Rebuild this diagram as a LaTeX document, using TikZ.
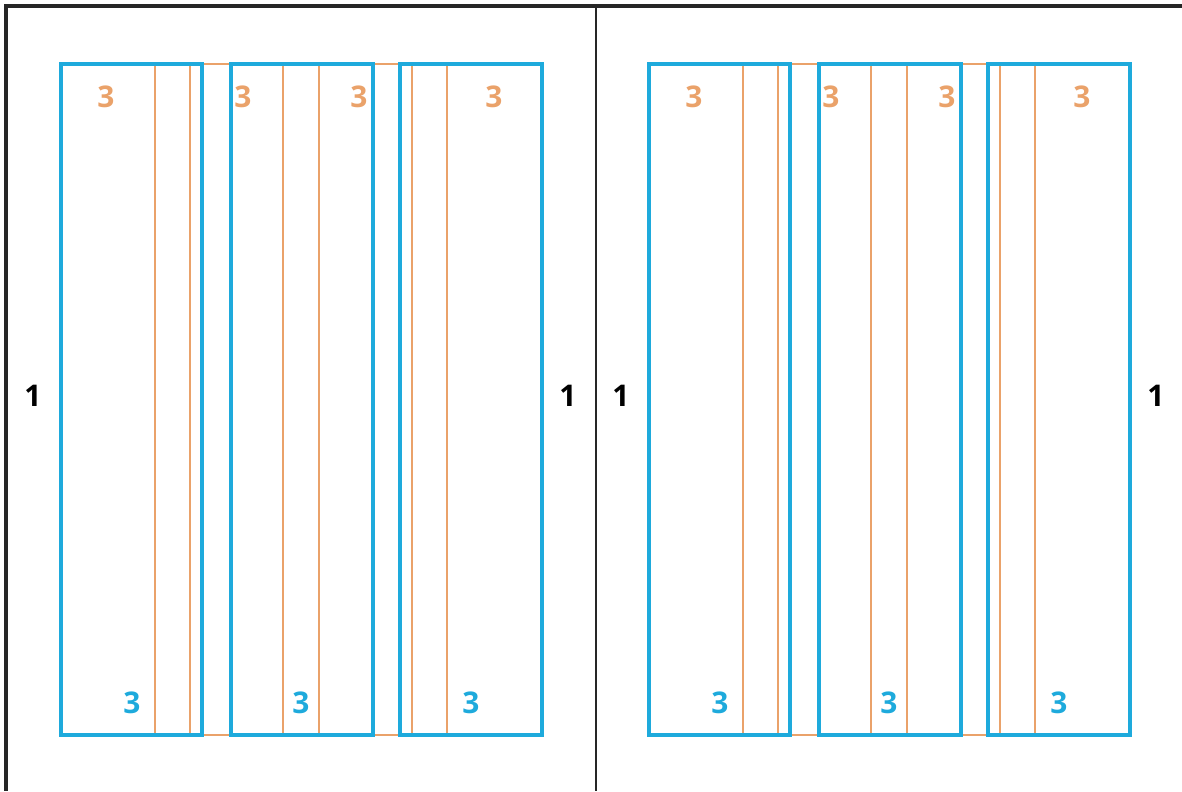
\documentclass[tikz,border=0pt]{standalone}
\usepackage{fontspec}
\setmainfont{Open Sans}
\definecolor{gridblue}{RGB}{30,170,220}
\definecolor{gridorange}{RGB}{234,162,106}
\tikzset{
  colbox/.style={draw=gridblue, line width=2pt},
  modline/.style={draw=gridorange, line width=1.3pt},
  numlbl/.style={font=\fontsize{17}{17}\selectfont\bfseries, inner sep=0pt},
}
\begin{document}
\begin{tikzpicture}[x=0.02cm, y=-0.02cm]
  \useasboundingbox (0,0) rectangle (1182,791);
  % page edges and spine
  \draw[line width=2.3pt, black!85] (1182,6) -- (6,6) -- (6,791);
  \draw[line width=1.1pt, black!85] (596,6) -- (596,791);
  % two facing pages
  \foreach \off/\p in {0/a,588/b} {
    \begin{scope}[shift={(\off,0)}]
      \draw[modline] (61,64) rectangle (542,735);
      \foreach \x in {155,190,283,319,412,447}
        \draw[modline] (\x,64) -- (\x,735);
      \foreach \l/\r in {61/202,231/373,400/542}
        \draw[colbox] (\l,64) rectangle (\r,735);
      \node[numlbl, text=gridorange] (mod1\p) at (106,97) {3};
      \node[numlbl, text=gridorange] (mod2\p) at (243,97) {3};
      \node[numlbl, text=gridorange] (mod3\p) at (359,97) {3};
      \node[numlbl, text=gridorange] (mod4\p) at (494,97) {3};
      \node[numlbl, text=gridblue] (col1\p) at (132,703) {3};
      \node[numlbl, text=gridblue] (col2\p) at (301,703) {3};
      \node[numlbl, text=gridblue] (col3\p) at (471,703) {3};
      \node[numlbl] (in\p) at (33,396) {1};
      \node[numlbl] (out\p) at (568,396) {1};
    \end{scope}
  }
\end{tikzpicture}
\end{document}
